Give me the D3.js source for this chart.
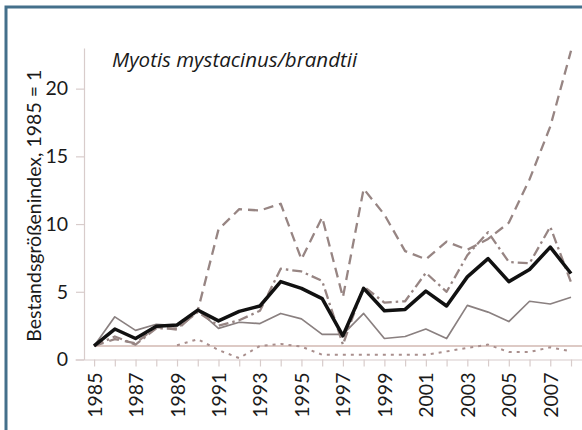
<!DOCTYPE html>
<html>
<head>
<meta charset="utf-8">
<script src="https://cdn.jsdelivr.net/npm/d3@7"></script>
<style>
  body { margin: 0; background: #fff; }
  svg { display: block; }
  text { font-family: Lato, "Noto Sans", sans-serif; fill: #1a1a1a; }
</style>
</head>
<body>
<div id="chart"></div>
<script>
// categories
var years = [1985, 1986, 1987, 1988, 1989, 1990, 1991, 1992, 1993, 1994, 1995, 1996,
             1997, 1998, 1999, 2000, 2001, 2002, 2003, 2004, 2005, 2006, 2007, 2008];

// series values (index, 1985 = 1)
var indexMain = [1.0, 2.25, 1.55, 2.45, 2.55, 3.65, 2.85, 3.55, 3.95, 5.75, 5.25, 4.5,
                 1.75, 5.25, 3.6, 3.7, 5.05, 3.95, 6.1, 7.45, 5.75, 6.65, 8.3, 6.35];
var thinSolid = [1.0, 3.15, 2.15, 2.6, 2.5, 3.65, 2.3, 2.75, 2.65, 3.4, 3.0, 1.85,
                 1.85, 3.4, 1.55, 1.7, 2.25, 1.55, 4.0, 3.5, 2.8, 4.3, 4.1, 4.6];
var dashDot   = [1.0, 1.7, 1.1, 2.3, 2.3, 3.5, 2.5, 2.9, 3.6, 6.7, 6.5, 5.8,
                 1.1, 5.4, 4.2, 4.3, 6.4, 5.0, 7.7, 9.4, 7.2, 7.1, 9.8, 5.7];
var dashed    = [1.0, 1.5, 1.2, 2.4, 2.2, 3.6, 9.6, 11.1, 11.0, 11.5, 7.4, 10.5,
                 4.6, 12.6, 10.7, 8.0, 7.4, 8.7, 8.1, 8.9, 10.1, 13.3, 17.2, 22.8];
var dotted    = [null, null, null, null, 1.05, 1.5, 0.7, 0.1, 1.0, 1.15, 0.95, 0.35,
                 0.35, 0.35, 0.35, 0.35, 0.35, 0.6, 0.85, 1.1, 0.55, 0.55, 0.9, 0.6];

var yTicks = [0, 5, 10, 15, 20];
var xLabels = [1985, 1987, 1989, 1991, 1993, 1995, 1997, 1999, 2001, 2003, 2005, 2007];

var width = 582, height = 430;

var svg = d3.select("#chart")
  .append("svg")
    .attr("width", width)
    .attr("height", height);

// frame (left and top edge only, like the cropped original)
svg.append("path")
  .attr("d", "M6," + height + "V7H" + width)
  .attr("fill", "none")
  .attr("stroke", "#44708b")
  .attr("stroke-width", 3);

var x = d3.scaleLinear()
  .domain([1984.08, 2008.53])
  .range([75, 582]);

var y = d3.scaleLinear()
  .domain([0, 23])
  .range([359.5, 48]);

var axisColor = "#d8cccb";

// x axis
var xg = svg.append("g")
  .attr("transform", "translate(0," + y(0) + ")")
  .call(d3.axisBottom(x)
    .tickValues(years)
    .tickSize(7)
    .tickSizeOuter(0)
    .tickFormat(function(d) { return xLabels.indexOf(d) >= 0 ? d : ""; }));
xg.select(".domain").attr("stroke", axisColor).attr("stroke-width", 1.2);
xg.selectAll(".tick line").attr("stroke", axisColor).attr("stroke-width", 1.2);
xg.selectAll(".tick text")
  .attr("transform", "rotate(-90)")
  .attr("text-anchor", "end")
  .attr("x", -13)
  .attr("y", 0)
  .attr("dy", "0.36em")
  .style("font-size", "19.5px")
  .style("fill", "#1a1a1a");

// y axis
var yg = svg.append("g")
  .attr("transform", "translate(84,0)")
  .call(d3.axisLeft(y)
    .tickValues(yTicks)
    .tickSize(8)
    .tickPadding(8)
    .tickSizeOuter(0));
yg.select(".domain").attr("stroke", axisColor).attr("stroke-width", 1.2);
yg.selectAll(".tick line").attr("stroke", axisColor).attr("stroke-width", 1.2);
yg.selectAll(".tick text")
  .style("font-size", "19.5px")
  .style("fill", "#1a1a1a");

// y title
svg.append("text")
  .attr("transform", "translate(41," + ((y(0) + y(23)) / 2 + 2) + ") rotate(-90)")
  .attr("text-anchor", "middle")
  .style("font-size", "19.5px")
  .text("Bestandsgrößenindex, 1985 = 1");

// reference line at 1
svg.append("line")
  .attr("x1", x(1985))
  .attr("x2", width)
  .attr("y1", y(1))
  .attr("y2", y(1))
  .attr("stroke", "#d2b8b2")
  .attr("stroke-width", 1.4);

// species label
svg.append("text")
  .attr("x", 112)
  .attr("y", 67)
  .style("font-family", "'Open Sans', Lato, sans-serif")
  .style("font-size", "20.5px")
  .style("font-style", "italic")
  .text("Myotis mystacinus/brandtii");

var line = d3.line()
  .defined(function(d) { return d[1] != null; })
  .x(function(d) { return x(d[0]); })
  .y(function(d) { return y(d[1]); });

function pairs(vals) {
  return years.map(function(yr, i) { return [yr, vals[i]]; });
}

var series = [
  {vals: dotted,    color: "#a98f8d", w: 2,   dash: "3,5"},
  {vals: thinSolid, color: "#8a8080", w: 1.7, dash: null},
  {vals: dashed,    color: "#978583", w: 2.3, dash: "10,6"},
  {vals: dashDot,   color: "#978583", w: 2.3, dash: "10,4,2.5,4"},
  {vals: indexMain, color: "#111111", w: 3.5, dash: null}
];

series.forEach(function(s) {
  svg.append("path")
    .datum(pairs(s.vals))
    .attr("fill", "none")
    .attr("stroke", s.color)
    .attr("stroke-width", s.w)
    .attr("stroke-linejoin", "round")
    .attr("stroke-dasharray", s.dash)
    .attr("d", line);
});
</script>
</body>
</html>
